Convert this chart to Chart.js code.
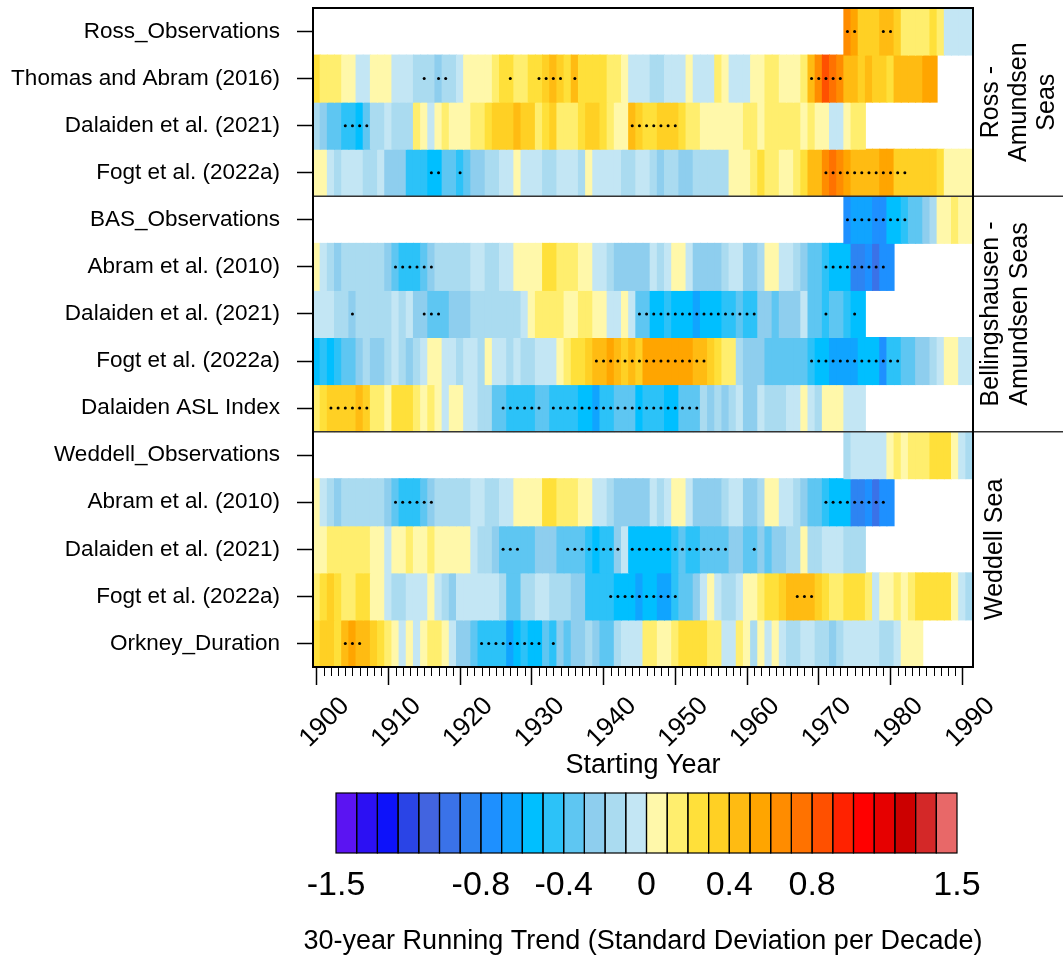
<!DOCTYPE html>
<html>
<head>
<meta charset="utf-8">
<script src="https://cdn.jsdelivr.net/npm/chart.js@4.4.1/dist/chart.umd.min.js"></script>
<style>html,body{margin:0;padding:0;background:#fff;overflow:hidden}canvas{display:block}</style>
</head>
<body>
<canvas id="c" width="1063" height="957"></canvas>
<script>
// ---------------- DATA ----------------
const rowLabels = ['Ross_Observations','Thomas and Abram (2016)','Dalaiden et al. (2021)','Fogt et al. (2022a)',
  'BAS_Observations','Abram et al. (2010)','Dalaiden et al. (2021)','Fogt et al. (2022a)','Dalaiden ASL Index',
  'Weddell_Observations','Abram et al. (2010)','Dalaiden et al. (2021)','Fogt et al. (2022a)','Orkney_Duration'];
const rowStartYears = [1974,1900,1900,1900,1974,1900,1900,1900,1900,1974,1900,1900,1900,1900];
const decadeTicks = [1900,1910,1920,1930,1940,1950,1960,1970,1980,1990];
const colorbarTicks = [-1.5,-0.8,-0.4,0,0.4,0.8,1.5];
const groupLabels = [['Ross -','Amundsen','Seas'],['Bellingshausen -','Amundsen Seas'],['Weddell Sea']];
const groupRanges = [[-0.5,3.5],[3.5,8.5],[8.5,13.5]];

const rossObs = [0.65,0.55,0.35,0.35,0.35,0.45,0.45,0.35,0.15,0.15,0.15,0.15,0.25,0.15,-0.05,-0.05,-0.05,-0.05];
const thomasAbram2016 = [
  0.25,0.15,0.15,0.15,0.05,0.05,-0.05,-0.05,0.05,0.05, 0.05,-0.05,-0.05,-0.05,-0.15,-0.15,-0.15,-0.25,-0.15,-0.15,
  -0.05,0.05,0.05,0.05,0.05,0.15,0.25,0.25,0.15,0.15, 0.25,
  0.25,0.35,0.45,0.35,0.25,0.45,0.25,0.25,0.25,0.25, 0.15,0.15,0.05,-0.05,-0.05,-0.05,-0.15,-0.15,-0.05,-0.05,
  -0.05,0.05,-0.05,-0.05,-0.05,0.15,0.05,-0.05,-0.05,-0.05, 0.05,
  0.05,0.15,0.15,0.05,0.05,0.05,0.15,0.45,0.65,0.85, 0.75,0.65,0.45,0.45,0.35,0.45,0.35,0.35,0.25,0.45,
  0.45,0.45,0.45,0.55,0.55];
const dalaidenRoss = [
  -0.15,-0.25,-0.35,-0.35,-0.45,-0.45,-0.55,-0.35,-0.15,-0.15, -0.05,-0.15,-0.15,-0.15,0.15,0.05,-0.05,0.05,0.15,0.05,
  0.05,0.05,0.15,0.15,0.25,0.35,0.35,0.35,0.45,0.35, 0.35,
  0.15,0.25,0.35,0.15,0.15,0.15,0.25,0.35,0.35,0.25, 0.15,0.05,0.05,0.45,0.35,0.25,0.25,0.35,0.35,0.35,
  0.25,0.15,0.15,0.05,0.05,0.05,0.05,0.05,0.05,0.15, 0.15,
  0.05,0.15,0.15,0.15,0.15,0.15,0.05,0.15,0.05,0.05, -0.05,-0.05,0.05,0.15,0.15];
const fogtRoss = [
  0.05,0.05,-0.05,-0.15,-0.05,-0.05,-0.05,-0.15,-0.15,-0.05, -0.25,-0.25,-0.25,-0.45,-0.45,-0.45,-0.55,-0.55,-0.35,-0.35,
  -0.45,-0.35,-0.25,-0.25,-0.15,-0.15,-0.05,-0.05,0.05,-0.05, -0.05,
  -0.05,-0.15,-0.15,-0.05,-0.05,-0.05,-0.15,0.05,-0.05,-0.05, -0.05,-0.05,-0.15,-0.15,-0.05,-0.05,-0.15,-0.25,-0.15,-0.15,
  -0.25,-0.25,-0.15,-0.15,-0.15,-0.15,-0.15,0.05,0.05,0.05, 0.15,
  0.25,0.15,0.15,0.05,0.05,0.15,0.25,0.45,0.45,0.65, 0.75,0.65,0.55,0.45,0.45,0.45,0.45,0.55,0.55,0.35,
  0.35,0.35,0.35,0.35,0.35,0.25,0.05,0.05,0.05,0.05];
const basObs = [-0.75,-0.65,-0.65,-0.65,-0.75,-0.75,-0.55,-0.55,-0.45,-0.35,-0.35,-0.25,-0.15,0.05,0.05,0.15,0.05,0.05];
const abramBAS = [
  0.05,-0.05,-0.15,-0.25,-0.15,-0.15,-0.15,-0.15,-0.15,-0.15, -0.25,-0.35,-0.45,-0.45,-0.45,-0.35,-0.25,-0.15,-0.15,-0.15,
  -0.15,-0.15,-0.05,-0.05,-0.15,-0.15,-0.05,-0.05,0.05,0.05, 0.05,
  0.05,0.25,0.25,0.15,0.15,0.15,0.05,0.05,-0.05,-0.05, -0.15,-0.25,-0.25,-0.25,-0.25,-0.25,-0.05,-0.15,-0.05,0.05,
  0.05,-0.05,-0.25,-0.25,-0.25,-0.25,-0.15,-0.05,-0.05,-0.25, -0.25,
  -0.15,0.05,0.05,-0.05,-0.05,-0.15,-0.25,-0.35,-0.35,-0.45, -0.55,-0.55,-0.55,-0.85,-0.85,-0.75,-0.95,-0.75,-0.75];
const dalaidenBAS = [
  -0.05,-0.05,-0.05,-0.15,-0.15,-0.25,-0.15,-0.15,-0.15,-0.15, -0.15,-0.05,-0.15,-0.05,-0.25,-0.25,-0.35,-0.35,-0.35,-0.25,
  -0.25,-0.25,-0.15,-0.15,-0.15,-0.15,-0.15,-0.15,-0.15,-0.05, 0.05,
  0.15,0.15,0.15,0.15,0.05,0.05,0.15,0.15,0.05,0.05, -0.05,-0.05,0.05,-0.05,-0.35,-0.35,-0.55,-0.55,-0.45,-0.55,
  -0.55,-0.55,-0.65,-0.55,-0.55,-0.55,-0.45,-0.45,-0.35,-0.45, -0.45,
  -0.25,-0.25,-0.35,-0.25,-0.25,-0.25,-0.05,-0.35,-0.35,-0.45, -0.35,-0.35,-0.45,-0.55,-0.55];
const fogtBAS = [
  -0.55,-0.45,-0.55,-0.45,-0.35,-0.35,-0.25,-0.15,-0.25,-0.25, -0.15,-0.05,-0.15,-0.25,-0.15,-0.05,0.05,0.05,-0.05,-0.05,
  -0.15,-0.05,-0.05,-0.15,0.05,-0.05,-0.05,-0.15,-0.05,-0.15, -0.15,
  -0.05,-0.05,-0.05,0.05,0.15,0.25,0.25,0.35,0.45,0.45, 0.55,0.45,0.35,0.45,0.35,0.55,0.55,0.55,0.55,0.55,
  0.55,0.55,0.45,0.45,0.35,0.25,0.15,0.15,-0.15,-0.25, -0.25,
  -0.25,-0.35,-0.35,-0.35,-0.35,-0.35,-0.35,-0.45,-0.55,-0.55, -0.65,-0.65,-0.65,-0.65,-0.55,-0.55,-0.55,-0.75,-0.45,-0.45,
  -0.35,-0.35,-0.25,-0.25,-0.15,-0.05,0.05,0.05,-0.05,-0.05];
const aslIndex = [
  0.15,0.25,0.35,0.35,0.35,0.35,0.45,0.35,0.15,0.15, 0.05,0.25,0.25,0.25,0.15,0.05,0.15,0.05,-0.05,0.05,
  0.05,-0.05,-0.05,-0.15,-0.15,-0.35,-0.35,-0.45,-0.45,-0.45, -0.45,
  -0.35,-0.35,-0.45,-0.45,-0.45,-0.45,-0.55,-0.55,-0.65,-0.45, -0.45,-0.35,-0.35,-0.35,-0.55,-0.45,-0.45,-0.45,-0.55,-0.55,
  -0.35,-0.35,-0.35,-0.15,-0.25,-0.15,-0.25,-0.15,-0.05,-0.25, -0.25,
  -0.05,-0.15,-0.15,-0.15,-0.05,-0.05,0.05,-0.05,-0.15,0.05, 0.05,0.05,-0.05,-0.05,-0.05];
const weddellObs = [-0.15,-0.05,-0.05,-0.05,-0.05,-0.05,0.05,0.15,0.05,0.15,0.15,0.15,0.25,0.25,0.25,0.05,-0.05,-0.15];
const abramWeddell = [
  0.05,-0.05,-0.15,-0.25,-0.15,-0.15,-0.15,-0.15,-0.15,-0.15, -0.25,-0.35,-0.45,-0.45,-0.45,-0.35,-0.25,-0.15,-0.15,-0.15,
  -0.15,-0.15,-0.05,-0.05,-0.15,-0.15,-0.05,-0.05,0.05,0.05, 0.05,
  0.05,0.25,0.25,0.15,0.15,0.15,0.05,0.05,-0.05,-0.05, -0.15,-0.25,-0.25,-0.25,-0.25,-0.25,-0.05,-0.15,-0.05,0.05,
  0.05,-0.05,-0.25,-0.25,-0.25,-0.25,-0.15,-0.05,-0.05,-0.25, -0.25,
  -0.15,0.05,0.05,-0.05,-0.05,-0.15,-0.25,-0.35,-0.35,-0.45, -0.55,-0.55,-0.55,-0.85,-0.85,-0.75,-0.95,-0.75,-0.75];
const dalaidenWeddell = [
  0.05,0.05,0.15,0.15,0.15,0.15,0.15,0.15,0.05,0.05, -0.05,0.05,0.05,0.15,0.05,0.05,0.15,0.05,0.05,0.05,
  0.05,0.05,-0.05,-0.15,-0.15,-0.25,-0.35,-0.35,-0.35,-0.35, -0.35,
  -0.25,-0.25,-0.25,-0.35,-0.35,-0.35,-0.35,-0.45,-0.55,-0.45, -0.45,-0.25,-0.05,-0.55,-0.55,-0.55,-0.55,-0.55,-0.55,-0.45,
  -0.35,-0.45,-0.45,-0.35,-0.35,-0.35,-0.35,-0.25,-0.25,-0.35, -0.35,
  -0.25,-0.35,-0.25,-0.25,-0.15,-0.15,0.05,-0.15,-0.15,-0.05, -0.05,-0.05,-0.15,-0.15,-0.15];
const fogtWeddell = [
  0.15,0.25,0.35,0.25,0.15,0.15,0.25,0.25,0.05,0.05, -0.05,-0.15,-0.15,-0.05,-0.05,-0.05,0.05,-0.05,-0.15,-0.25,
  -0.05,-0.05,-0.05,-0.05,-0.05,-0.05,-0.15,-0.35,-0.35,-0.15, -0.15,
  -0.05,-0.05,-0.15,-0.15,-0.15,-0.25,-0.25,-0.45,-0.45,-0.45, -0.45,-0.55,-0.55,-0.55,-0.65,-0.55,-0.55,-0.65,-0.65,-0.45,
  -0.35,-0.35,-0.25,-0.05,0.05,-0.05,-0.15,-0.15,-0.05,0.05, 0.05,
  0.15,0.25,0.25,0.35,0.45,0.45,0.45,0.45,0.35,0.25, 0.15,0.15,0.25,0.25,0.25,0.15,-0.05,0.05,0.05,0.15,
  0.05,0.15,0.25,0.25,0.25,0.25,0.25,0.05,-0.05,-0.15];
const orkneyDuration = [
  0.25,0.35,0.35,0.25,0.45,0.55,0.45,0.45,0.35,0.25, 0.15,0.05,-0.05,0.05,-0.05,0.05,0.15,0.15,0.05,-0.05,
  -0.25,-0.25,-0.35,-0.45,-0.45,-0.45,-0.45,-0.65,-0.55,-0.45, -0.55,
  -0.55,-0.35,-0.45,-0.25,-0.35,-0.25,-0.25,-0.15,-0.25,-0.35, -0.35,-0.15,-0.05,-0.05,-0.05,0.15,0.15,0.05,0.05,0.15,
  0.25,0.25,0.25,0.25,0.15,0.15,-0.05,-0.05,0.15,0.05, -0.15,
  0.05,-0.05,0.05,-0.05,-0.15,-0.15,-0.05,-0.05,-0.15,-0.15, -0.25,-0.15,-0.05,-0.05,-0.05,-0.05,-0.05,-0.15,-0.15,-0.05,
  0.05,0.05,0.05];

// years whose trend is significant (stippled)
const sigRossObs = [1974,1975,1979,1980];
const sigThomas = [1915,1917,1918,1927,1931,1932,1933,1934,1936,1969,1970,1971,1972,1973];
const sigDalaidenRoss = [1904,1905,1906,1907,1944,1945,1946,1947,1948,1949,1950];
const sigFogtRoss = [1916,1917,1920,1971,1972,1973,1974,1975,1976,1977,1978,1979,1980,1981,1982];
const sigBASObs = [1974,1975,1976,1977,1978,1979,1980,1981,1982];
const sigAbramBAS = [1911,1912,1913,1914,1915,1916,1971,1972,1973,1974,1975,1976,1977,1978,1979];
const sigDalaidenBAS = [1905,1915,1916,1917,1945,1946,1947,1948,1949,1950,1951,1952,1953,1954,1955,1956,1957,1958,1959,1960,1961,1971,1975];
const sigFogtBAS = [1939,1940,1941,1942,1943,1944,1945,1946,1947,1948,1949,1950,1951,1952,1953,1954,1969,1970,1971,1972,1973,1974,1975,1976,1977,1978,1979,1980,1981];
const sigASL = [1902,1903,1904,1905,1906,1907,1926,1927,1928,1929,1930,1931,1933,1934,1935,1936,1937,1938,1939,1940,1941,1942,1943,1944,1945,1946,1947,1948,1949,1950,1951,1952,1953];
const sigWeddellObs = [];
const sigAbramWeddell = [1911,1912,1913,1914,1915,1916,1971,1972,1973,1974,1975,1976,1977,1978,1979];
const sigDalaidenWeddell = [1926,1927,1928,1935,1936,1937,1938,1939,1940,1941,1942,1944,1945,1946,1947,1948,1949,1950,1951,1952,1953,1954,1955,1956,1957,1961];
const sigFogtWeddell = [1941,1942,1943,1944,1945,1946,1947,1948,1949,1950,1967,1968,1969];
const sigOrkney = [1904,1905,1906,1923,1924,1925,1926,1927,1928,1929,1930,1931,1933];

// ---------------- STYLE ----------------
const FONT = "'Liberation Sans', Arial, Helvetica, sans-serif";
const palette = ['#5B14F2','#2C10F3','#0D12FA','#2A44E6','#4264E0','#3A72E8','#2D84F2','#1E90FF','#10A4FF','#00BFFF',
  '#2CC2F8','#5EC6F2','#8ECEEE','#AADBF0','#C3E6F4','#FFF8AA','#FFEE6E','#FFE03A','#FFD024','#FFBB12',
  '#FFA500','#FF8C00','#FF7200','#FF5000','#FF2200','#FF0000','#E60000','#CC0000','#D42828','#E86868'];
const cMin = -1.5, cMax = 1.5;
function colorFor(v) {
  let i = Math.floor((v - cMin) / ((cMax - cMin) / palette.length) + 1e-9);
  i = Math.max(0, Math.min(palette.length - 1, i));
  return palette[i];
}

const rowSeries = [rossObs, thomasAbram2016, dalaidenRoss, fogtRoss, basObs, abramBAS, dalaidenBAS, fogtBAS,
  aslIndex, weddellObs, abramWeddell, dalaidenWeddell, fogtWeddell, orkneyDuration];
const rowSig = [sigRossObs, sigThomas, sigDalaidenRoss, sigFogtRoss, sigBASObs, sigAbramBAS, sigDalaidenBAS, sigFogtBAS,
  sigASL, sigWeddellObs, sigAbramWeddell, sigDalaidenWeddell, sigFogtWeddell, sigOrkney];

const datasets = rowSeries.map((vals, r) => ({
  type: 'bar',
  indexAxis: 'y',
  grouped: false,
  data: vals.map((v, i) => ({ x: [rowStartYears[r] + i - 0.5, rowStartYears[r] + i + 0.5], y: r })),
  backgroundColor: vals.map(colorFor),
  borderWidth: 0,
  barPercentage: 1,
  categoryPercentage: 1,
  inflateAmount: 0.5,
  order: 1
}));
datasets.push({
  type: 'scatter',
  data: rowSig.flatMap((yrs, r) => yrs.map(yr => ({ x: yr, y: r }))),
  pointRadius: 1.5,
  pointHoverRadius: 1.5,
  pointStyle: 'circle',
  backgroundColor: '#000',
  borderWidth: 0,
  order: 0
});

function zeroPad(s) { s.paddingTop = 0; s.paddingBottom = 0; s.paddingLeft = 0; s.paddingRight = 0; }

const decor = {
  id: 'decor',
  afterDraw(chart) {
    const ctx = chart.ctx, ca = chart.chartArea;
    const xs = chart.scales.x, ys = chart.scales.y;
    ctx.save();
    // minor year ticks
    ctx.strokeStyle = '#000'; ctx.lineWidth = 1;
    for (let yr = decadeTicks[0]; yr <= decadeTicks[decadeTicks.length - 1]; yr++) {
      if (decadeTicks.includes(yr)) continue;
      const px = Math.round(xs.getPixelForValue(yr)) + 0.5;
      ctx.beginPath(); ctx.moveTo(px, ca.bottom); ctx.lineTo(px, ca.bottom + 9); ctx.stroke();
    }
    // group separators
    ctx.strokeStyle = '#333'; ctx.lineWidth = 1.5;
    [groupRanges[0][1], groupRanges[1][1]].forEach(v => {
      const py = ys.getPixelForValue(v);
      ctx.beginPath(); ctx.moveTo(ca.left, py); ctx.lineTo(chart.width, py); ctx.stroke();
    });
    // frame
    ctx.strokeStyle = '#000'; ctx.lineWidth = 2;
    ctx.strokeRect(ca.left, ca.top, ca.right - ca.left, ca.bottom - ca.top);
    // group labels
    const lineX = [[991, 1019, 1047], [991, 1020], [995]];
    ctx.fillStyle = '#000'; ctx.font = '25px ' + FONT; ctx.textAlign = 'center'; ctx.textBaseline = 'middle';
    groupLabels.forEach((lines, g) => {
      const yc = (ys.getPixelForValue(groupRanges[g][0]) + ys.getPixelForValue(groupRanges[g][1])) / 2;
      lines.forEach((t, j) => {
        ctx.save(); ctx.translate(lineX[g][j], yc); ctx.rotate(-Math.PI / 2); ctx.fillText(t, 0, 0); ctx.restore();
      });
    });
    // colour bar
    const cbL = 336, cbR = 957, cbT = 793, cbB = 853;
    const w = (cbR - cbL) / palette.length;
    palette.forEach((c, i) => { ctx.fillStyle = c; ctx.fillRect(cbL + i * w, cbT, w, cbB - cbT); });
    ctx.strokeStyle = '#000'; ctx.lineWidth = 1.2;
    palette.forEach((c, i) => { ctx.strokeRect(cbL + i * w, cbT, w, cbB - cbT); });
    ctx.fillStyle = '#000'; ctx.font = '34px ' + FONT; ctx.textAlign = 'center'; ctx.textBaseline = 'middle';
    colorbarTicks.forEach(t => {
      const px = cbL + (t - cMin) / (cMax - cMin) * (cbR - cbL);
      ctx.fillText(String(t), px, 886);
    });
    ctx.font = '27px ' + FONT;
    ctx.fillText('30-year Running Trend (Standard Deviation per Decade)', 643, 942);
    ctx.restore();
  }
};

new Chart(document.getElementById('c'), {
  type: 'bar',
  data: { datasets },
  options: {
    responsive: false,
    animation: false,
    events: [],
    layout: { padding: { left: 0, right: 90, top: 8, bottom: 174.8 } },
    plugins: { legend: { display: false }, tooltip: { enabled: false } },
    scales: {
      x: {
        type: 'linear', position: 'bottom', min: 1899.5, max: 1991.5, offset: false,
        afterBuildTicks: s => { s.ticks = decadeTicks.map(v => ({ value: v })); },
        afterFit: s => { s.height = 115.2; zeroPad(s); },
        grid: { display: true, drawOnChartArea: false, drawTicks: true, tickLength: 18, tickColor: '#000', tickWidth: 1.5, offset: false },
        border: { display: false },
        ticks: { autoSkip: false, minRotation: 45, maxRotation: 45, labelOffset: 28.5, padding: 6, color: '#000',
          font: { family: FONT, size: 26 }, callback: v => String(v) },
        title: { display: true, text: 'Starting Year', color: '#000', font: { family: FONT, size: 27 }, padding: { top: 0, bottom: 0 } }
      },
      y: {
        type: 'linear', min: -0.5, max: 13.5, reverse: true, offset: false,
        afterBuildTicks: s => { s.ticks = rowLabels.map((_, i) => ({ value: i })); },
        afterFit: s => { s.width = 313; zeroPad(s); },
        grid: { display: true, drawOnChartArea: false, drawTicks: true, tickLength: 16, tickColor: '#000', tickWidth: 1.5, offset: false },
        border: { display: false },
        ticks: { autoSkip: false, padding: 17, color: '#000', font: { family: FONT, size: 22.5 }, callback: v => rowLabels[v] }
      }
    }
  },
  plugins: [decor]
});
</script>
</body>
</html>
